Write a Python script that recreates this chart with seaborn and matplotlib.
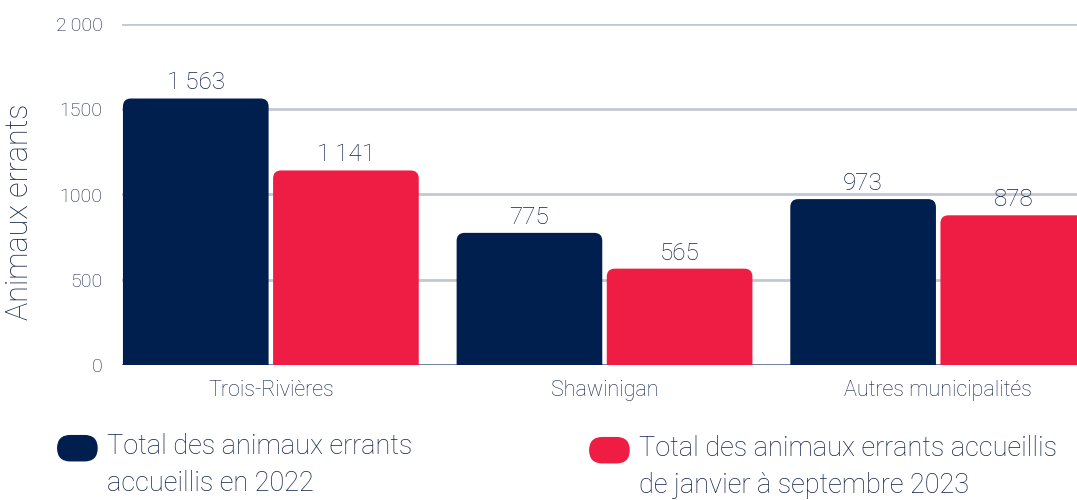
import pandas as pd
import matplotlib.pyplot as plt
import seaborn as sns
from matplotlib.patches import FancyBboxPatch, Patch
from matplotlib.legend_handler import HandlerPatch

# donnees
villes = ["Trois-Rivières", "Shawinigan", "Autres municipalités"]
total_2022 = [1563, 775, 973]
total_2023 = [1141, 565, 878]
series = ["Total des animaux errants\naccueillis en 2022",
          "Total des animaux errants accueillis\nde janvier à septembre 2023"]
y_ticks = [0, 500, 1000, 1500, 2000]
y_tick_labels = ["0", "500", "1000", "1500", "2\u2009000"]

navy = "#001f4f"
rouge = "#ef1c43"
texte = "#11224a"

df = pd.DataFrame({
    "ville": villes * 2,
    "valeur": total_2022 + total_2023,
    "serie": [series[0]] * 3 + [series[1]] * 3,
})

sns.set_style("white")
plt.rcParams["font.family"] = ["Roboto", "DejaVu Sans"]
plt.rcParams["font.weight"] = "light"

fig = plt.figure(figsize=(10.77, 5), dpi=100)
ax = fig.add_axes([0.1133, 0.27, 0.8867, 0.682])

sns.barplot(data=df, x="ville", y="valeur", hue="serie", palette=[navy, rouge],
            saturation=1, width=0.9, gap=0.03, ax=ax, legend=False, zorder=3)

ax.set_xlim(-0.446, 2.416)
ax.set_ylim(0, 2000)

# coins arrondis en haut des barres (le bas est coupe par l'axe)
px_x = 334.0                 # pixels par unite x
px_y = 341.0 / 2000          # pixels par unite y
r = 8 / px_x
aspect = (1 / px_y) / (1 / px_x)
extra = 20 / px_y
for bar in list(ax.patches):
    x, w, h = bar.get_x(), bar.get_width(), bar.get_height()
    c = bar.get_facecolor()
    bar.set_visible(False)
    ax.add_patch(FancyBboxPatch((x, -extra), w, h + extra,
                                boxstyle=f"round,pad=0,rounding_size={r}",
                                mutation_aspect=aspect, fc=c, ec="none", zorder=3))

for cont in ax.containers:
    labels = [f"{int(v):,}".replace(",", "\u2009") for v in cont.datavalues]
    ax.bar_label(cont, labels=labels, padding=3, fontsize=17.5, color=texte, zorder=4)

ax.set_yticks(y_ticks)
ax.set_yticklabels(y_tick_labels)
ax.grid(axis="y", color="#c2c8d4", linewidth=2, zorder=0)
ax.axhline(0, color="#6a7a96", linewidth=2, zorder=2)
sns.despine(ax=ax, left=True, bottom=True)
ax.tick_params(axis="y", length=0, pad=14, labelsize=14, labelcolor=texte)
ax.tick_params(axis="x", length=0, pad=11, labelsize=15.5, labelcolor=texte)
ax.set_xlabel("")
ax.set_ylabel("Animaux errants", fontsize=22, fontweight="light", color=texte)
ax.yaxis.set_label_coords(-0.092, 0.449)


def pilule(legend, orig_handle, xdescent, ydescent, width, height, fontsize):
    # la pastille est alignee sur la premiere ligne du texte
    return FancyBboxPatch((-xdescent, -ydescent + 13), width, height,
                          boxstyle=f"round,pad=0,rounding_size={height / 2}")


for lab, col, pos in zip(series, [navy, rouge], [(0.031, 0.07), (0.525, 0.066)]):
    leg = fig.legend(handles=[Patch(color=col, label=lab)], loc="center left",
                     bbox_to_anchor=pos, frameon=False, fontsize=19.5,
                     handlelength=1.45, handleheight=1.05, handletextpad=0.35,
                     handler_map={Patch: HandlerPatch(patch_func=pilule)})
    for t in leg.get_texts():
        t.set_color(texte)
        t.set_linespacing(1.45)

fig.savefig("out.png", dpi=100)
